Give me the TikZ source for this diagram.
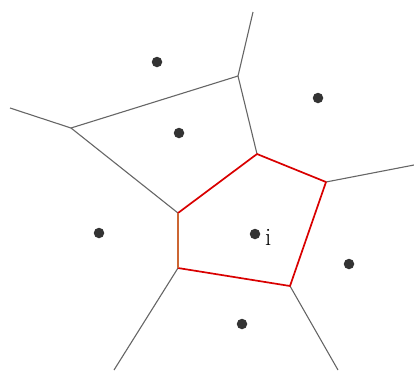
\documentclass[tikz,border=0pt]{standalone}
\usepackage{fontspec}
\begin{document}
\begin{tikzpicture}[x=1pt,y=-1pt,
  edge/.style={draw=black!60,line width=1.1pt},
  celledge/.style={draw=red!85!black,line width=1.7pt},
  site/.style={circle,fill=black!80,inner sep=0pt,minimum size=10.5pt}]
\useasboundingbox (0,0) rectangle (414,370);
% vertices
\coordinate (T) at (253,12);
\coordinate (A) at (238,76);
\coordinate (L) at (10,108);
\coordinate (B) at (71,128);
\coordinate (C) at (257,154);
\coordinate (E) at (326,182);
\coordinate (F) at (290,286);
\coordinate (G) at (178,268);
\coordinate (D) at (178,213);
\coordinate (R) at (414,165);
\coordinate (BL) at (114,370);
\coordinate (BR) at (338,370);
% gray edges
\draw[edge] (T) -- (A);
\draw[edge] (L) -- (B);
\draw[edge] (A) -- (B);
\draw[edge] (A) -- (C);
\draw[edge] (B) -- (D);
\draw[edge] (E) -- (R);
\draw[edge] (G) -- (BL);
\draw[edge] (F) -- (BR);
% cell i
\draw[celledge,line join=round] (D) -- (C) -- (E) -- (F) -- (G);
\draw[draw=brown!80!red,line width=1.2pt] (G) -- (D);
% sites
\node[site] (s1) at (157,62) {};
\node[site] (s2) at (179,133) {};
\node[site] (s3) at (318,98) {};
\node[site] (s4) at (99,233) {};
\node[site] (si) at (255,234) {};
\node[site] (s5) at (349,264) {};
\node[site] (s6) at (242,324) {};
\node[font=\fontsize{25}{25}\selectfont,anchor=base west,inner sep=0pt] (lab) at (265,245) {i};
\end{tikzpicture}
\end{document}
